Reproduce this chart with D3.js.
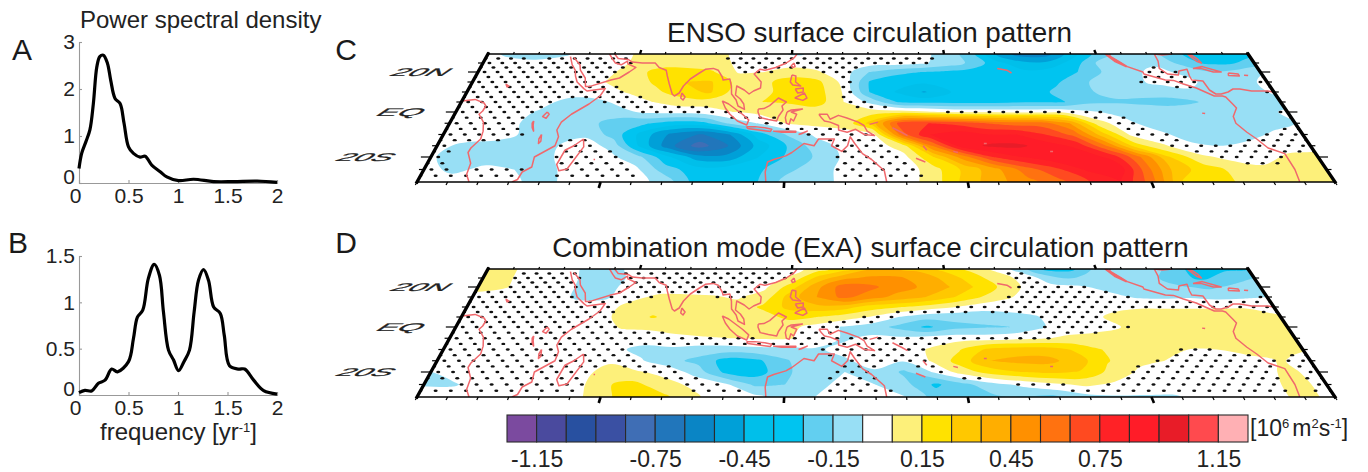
<!DOCTYPE html>
<html>
<head>
<meta charset="utf-8">
<script src="https://cdn.jsdelivr.net/npm/d3@7"></script>
<style>
  html, body { margin: 0; padding: 0; background: #fff; }
  svg { display: block; font-family: "Liberation Sans", Arial, sans-serif; }
</style>
</head>
<body>
<svg id="chart" width="1368" height="472"></svg>
<script>
// spectra, [frequency, power]
const psdA = [[0,.31],[.027,.63],[.07,.88],[.11,1.13],[.145,1.69],[.18,2.47],[.21,2.69],[.246,2.72],[.287,2.55],[.32,2.19],[.364,1.8],[.415,1.69],[.455,1.27],[.5,.77],[.55,.63],[.617,.55],[.668,.57],[.735,.38],[.82,.24],[.887,.13],[1.005,.05],[1.157,.08],[1.36,.03],[1.56,.03],[1.8,.04],[2,.015]];
const psdB = [[0,.025],[.06,.05],[.128,.043],[.196,.126],[.263,.16],[.33,.28],[.388,.25],[.5,.36],[.55,.61],[.59,.84],[.644,.915],[.7,1.256],[.76,1.41],[.813,1.29],[.853,.897],[.904,.484],[.955,.377],[1.005,.262],[1.06,.36],[1.116,.484],[1.163,.897],[1.207,1.238],[1.258,1.353],[1.308,1.238],[1.36,.95],[1.427,.88],[1.467,.646],[1.52,.316],[1.61,.28],[1.673,.28],[1.764,.16],[1.865,.047],[2,.01]];
const freqTicks = [0, 0.5, 1, 1.5, 2];
const psdATicks = [0, 1, 2, 3];
const psdBTicks = [0, 0.5, 1, 1.5];

// fields in hundredths of 10^6 m2/s, rows are lat 30 to -30 every 5, columns lon 0 to 300 every 10
const ensoField = [
  [-2,-8,-10,-7,0,2,6,8,8,7,3,0,-6,-4,0,0,0,-2,-8,-20,-45,-60,-60,-40,-22,-10,-10,-20,-33,-30,-28],
  [0,-1,-2,0,0,1,7,9,10,9,3,1,2,1,-2,0,0,-3,-9,-17,-32,-42,-42,-30,-12,-8,-7,-16,-26,-27,-20],
  [0,0,0,1,2,3,10,20,19,16,4,5,8,6,0,-15,-22,-25,-27,-30,-35,-33,-30,-25,-14,-8,-2,-7,-14,-12,-7],
  [0,0,0,0,0,5,10,17,25,26,12,12,21,18,2,-26,-31,-33,-33,-33,-33,-32,-27,-17,-10,-7,-2,-2,-10,-13,0],
  [0,0,0,-1,0,0,6,13,20,27,10,12,20,20,4,-26,-36,-46,-35,-34,-34,-31,-22,-16,-13,-12,-11,-7,-13,-12,-3],
  [0,0,0,-2,-9,-7,-2,5,10,10,9,15,16,20,5,-8,-26,-28,-28,-28,-27,-26,-26,-17,-16,-17,-18,-15,-12,-12,-10],
  [0,0,-1,-6,-10,-10,-7,-3,-2,0,5,8,10,9,7,10,10,7,3,3,2,2,2,-4,-8,-10,-10,-10,-9,-9,-3],
  [0,0,-3,-7,-12,-12,-22,-24,-30,-28,-12,-4,6,8,8,30,70,75,72,65,60,60,45,10,-2,-10,-12,-13,-12,-12,-5],
  [0,-1,-2,-7,-8,-7,-20,-40,-58,-66,-55,-30,-14,-3,2,2,60,85,90,85,85,75,62,30,3,-2,-10,-12,-12,-2,0],
  [-3,-7,-8,-8,-6,0,-8,-38,-62,-80,-65,-42,-25,-10,-2,0,10,55,90,97,97,90,82,55,20,6,-3,-5,1,0,0],
  [-4,-9,-9,-8,-6,0,-2,-12,-33,-50,-52,-36,-24,-14,-3,-2,2,25,50,75,85,92,92,82,55,25,8,2,0,7,9],
  [-2,-7,-3,-5,-8,-1,0,-2,-20,-30,-30,-28,-18,-10,-2,-2,-1,12,28,42,60,72,86,95,60,30,20,12,8,8,8],
  [0,-1,-1,-2,-9,-2,-1,-2,-7,-27,-30,-27,-12,-10,-2,-3,0,12,30,42,52,62,75,85,60,25,18,14,10,10,5]
];
const exaField = [
  [10,6,0,0,-8,-8,0,0,0,0,0,0,0,10,20,34,36,32,22,13,3,-10,-28,-28,-12,-8,-8,-20,-30,-27,-25],
  [8,6,0,0,-7,-10,-1,0,0,0,0,0,7,28,42,47,47,42,32,20,10,2,-10,-15,-15,-12,-12,-22,-27,-20,-15],
  [7,6,0,0,-7,-8,0,0,0,0,0,3,20,42,60,58,50,44,36,25,14,3,-2,-3,-8,-12,-13,-14,-17,-13,-7],
  [3,0,0,0,-7,-7,2,7,7,6,4,9,30,45,58,50,42,36,27,17,7,2,0,0,-1,-6,-7,-6,-8,-7,-5],
  [0,0,0,0,0,0,8,10,9,8,8,17,28,32,30,20,16,11,6,0,0,0,0,0,2,4,4,4,4,4,2],
  [0,0,0,0,-3,3,7,16,10,8,7,10,18,15,10,4,-5,-11,-12,-12,-10,-6,0,2,8,10,10,10,10,10,6],
  [0,0,0,0,0,0,6,7,10,10,8,9,8,1,-6,-10,-18,-27,-18,-16,-15,-7,0,0,5,8,10,10,10,10,8],
  [0,0,0,0,0,0,0,0,2,4,5,6,6,0,-6,-3,-3,0,1,0,2,4,7,10,10,10,10,10,10,10,8],
  [0,0,0,0,0,0,-3,-8,-7,-10,-10,-8,-8,-6,-3,0,0,6,14,27,30,30,24,15,9,8,5,5,9,10,6],
  [0,0,0,0,0,0,3,-4,-12,-18,-30,-27,-16,-7,-6,-2,-4,6,20,35,38,38,30,16,8,5,0,0,1,6,0],
  [-5,0,0,0,0,0,10,6,2,-10,-28,-30,-17,-8,-5,-6,-17,-4,10,20,25,27,24,12,3,0,0,0,0,8,0],
  [-6,-6,0,0,0,0,14,18,8,3,-3,-17,-15,-7,-3,-5,-12,-27,-17,-8,-2,3,7,3,0,0,0,0,0,10,0],
  [0,0,0,0,0,0,12,20,18,7,0,-2,-10,-5,-2,0,-5,-20,-18,-16,-16,-15,-8,-6,-6,-5,0,0,0,10,0]
];
const fieldLons = d3.range(0, 301, 10);
const fieldLats = d3.range(30, -31, -5);
const stippleLimit = 6;

// colour bar
const barColors = ["#7b4a9f","#4a4a9e","#2850a0","#3a50a3","#3f6eb5","#2176bb","#0a85c5","#00a0d8","#00bfea","#00c4f0","#62cff0","#98dff5","#ffffff","#fdf07a","#ffe200","#ffc800","#ffae00","#ff9000","#ff7210","#ff4a20","#ff2226","#ff1c28","#e81c28","#ff4a4e","#ffb0b4"];
const barLevels = d3.range(-125, 126, 10);
const barTicks = [-1.15, -0.75, -0.45, -0.15, 0.15, 0.45, 0.75, 1.15];

// coastlines, [lon, lat]
const coastlines = [
  [[0,5.5],[4.5,6.3],[8.5,4.5],[9.7,3],[9.5,.5],[8.8,-1],[11.8,-4.5],[13.3,-8.5],[13.8,-12],[12,-16],[11.8,-18],[14.5,-22.5],[15,-27],[17,-30]],
  [[33,28.5],[35,24],[37,21],[38,18],[39.5,15],[43,11.7],[44.5,10.5],[51,11.8],[50,8],[47,4],[42,-1],[39.5,-4.5],[39,-8],[40.5,-11],[40.5,-15],[35,-20],[35.5,-24],[33,-26],[32.5,-29],[31,-30]],
  [[34.5,28],[38,24],[39,21],[42,17],[43.3,12.8],[45,12.8],[52,16],[55,17],[58,20],[60,22.5],[56.5,24.5],[56,26],[54,24],[51.5,25],[50,27],[48,30]],
  [[50,30],[52,27.5],[56,27],[58,25.5],[62,25],[67,25],[69,22.5],[72,21],[73,18],[74.5,14],[76.5,9],[77.5,8],[79,9.5],[80,13],[82,16.5],[85,19.5],[87,21.5],[90,22],[92,21],[94,17.5],[94.5,16],[97,16.5],[98,13],[98.5,9],[100.5,6],[101.5,3],[104,1.3],[103.5,4],[102,6.5],[100,8.5],[100,13],[103,11],[105,9],[106.5,10.5],[109,12],[109,15],[106,19],[108,21.5],[110,21],[114,22.5],[118,25],[121,28],[122,30]],
  [[80,9.5],[81.5,7.5],[81,6],[80,7],[80,9.5]],
  [[121,25],[121.5,23],[120.5,22.5],[120,23.5],[121,25]],
  [[120.5,18.5],[122,18],[122,15],[124,13],[121,13.5],[120,15],[120.5,18.5]],
  [[122,7],[125.5,9.5],[126.5,7],[125,5.8],[122,7]],
  [[122,11.5],[125,12],[125,10],[123,9.5],[122,11.5]],
  [[109,1.5],[111,1.7],[113,3.2],[116,7],[119,5],[117.5,3],[118,1],[116.5,-2],[116,-4],[113,-3.3],[110,-2.5],[109,0],[109,1.5]],
  [[95.5,5.5],[98,4],[103.5,-1],[106,-3.5],[105.5,-5.8],[102,-4],[99,-1],[97,2],[95.5,5.5]],
  [[105.5,-6.5],[108.5,-6.5],[112,-7],[114.5,-7.7],[114,-8.7],[110,-8],[106,-7.3],[105.5,-6.5]],
  [[119.5,0],[121,1],[125,1.5],[121,0],[123,-1],[122,-4],[121,-3],[120.5,-5.5],[119.5,-5],[119,-2.5],[119.5,0]],
  [[115,-8.5],[119,-8.5],[123,-8.5],[123,-9],[118,-9],[115,-8.5]],
  [[124,-10],[127,-8.5],[125,-9.7],[124,-10]],
  [[131,-1],[134,-1],[135,-3.2],[138,-1.5],[141,-2.7],[145,-4.5],[147,-6],[148,-8.5],[150.5,-10.5],[147,-10],[144,-7.7],[141,-9],[138,-8],[138,-6],[135,-4.5],[133,-4],[132,-2.7],[131,-1]],
  [[114,-30],[113.5,-26],[114,-22],[116,-21],[120,-19.5],[122,-18],[124,-16],[126,-14],[129.5,-15],[131,-12],[135,-12],[136.5,-12],[135.5,-15],[139,-17.5],[141,-15],[142,-11],[143.5,-14],[146,-18.5],[149,-21],[153,-25.5],[153.5,-30]],
  [[49.5,-12],[50.5,-15.5],[47.5,-24.8],[45,-25.5],[43.5,-23],[44.5,-17],[47,-15],[49.5,-12]],
  [[33,0],[34,-1],[33.5,-2.8],[32,-2],[33,0]],
  [[29.5,-4],[30,-6],[31,-8.5],[30,-7],[29.3,-5],[29.5,-4]],
  [[34.3,-10],[35,-13],[34.5,-14],[34,-12],[34.3,-10]],
  [[13,14],[14.5,13],[14,12.5],[13,14]],
  [[55.3,-21],[55.8,-21]],
  [[199.5,22],[203,21],[204.5,19.5]],
  [[177,-17.5],[178.5,-18]],
  [[164,-20.5],[167,-22]],
  [[167,-15],[168,-17]],
  [[157,-7],[160,-9],[162,-10.5]],
  [[149,-5.5],[152,-4.5]],
  [[188,-14],[189,-14]],
  [[210,-17.5],[211,-17.5]],
  [[269,-.5],[270,-.7]],
  [[243.5,30],[246,26],[249.5,23],[248,25],[245,28.5],[245.5,30]],
  [[244,30],[247.5,26],[250,23],[255,20],[255,19],[262,16],[265,15.8],[268,14],[272,12],[274.5,10],[277,8],[280,8],[281,7.5],[282,4],[282.5,2],[279.5,-2],[279,-5],[281,-9],[283,-12],[285,-16],[289.5,-18.5],[289.5,-25],[288.5,-30]],
  [[263,30],[263,26],[262,22],[264,19],[268,18.5],[269,20.5],[272.5,21.5],[272,18],[272,16],[276,15.5],[276.5,11],[278,9],[280,9],[283,10],[285.5,11.5],[288,11.5],[292,10.5],[298,10.5],[300,10]],
  [[263,30],[266,29.5],[270,30]],
  [[277,30],[279,27],[279.5,25],[278,26],[277,28],[276,30]],
  [[275,22],[279,23],[285,20],[282,20],[278,22],[275,22]],
  [[287.5,19.5],[291,19],[291,18],[287,18.3],[287.5,19.5]],
  [[293,18.4],[294.5,18.3]]
];

const svg = d3.select("#chart");

//Map frame. Latitude spacing widens towards the bottom, the sides lean outwards
const latToY = d3.scaleLinear().domain([30, 20, 0, -20, -30]).range([54, 72, 112, 157, 182]);
const leftEdge = d3.scaleLinear().domain([54, 182]).range([488, 417]);
const rightEdge = d3.scaleLinear().domain([54, 182]).range([1248, 1335]);
const lonToU = d3.scaleLinear().domain([0, 300]).range([0, 1]);

function project(lon, lat) {
    const y = latToY(lat);
    return [leftEdge(y) + (rightEdge(y) - leftEdge(y)) * lonToU(lon), y];
}

function fieldAt(field, lon, lat) {
    const c = Math.min(Math.floor(lon / 10), 29);
    const r = Math.min(Math.floor((30 - lat) / 5), 11);
    const a = lon / 10 - c;
    const b = (30 - lat) / 5 - r;
    return field[r][c] * (1 - a) * (1 - b) + field[r][c + 1] * a * (1 - b)
        + field[r + 1][c] * (1 - a) * b + field[r + 1][c + 1] * a * b;
}

function drawMap(field, yOffset, name, title, letter, titleX, letterY) {
    const g = svg.append("g").attr("transform", "translate(0," + yOffset + ")");

    const corners = [project(0, 30), project(300, 30), project(300, -30), project(0, -30)];
    svg.append("clipPath").attr("id", "clip" + name)
        .append("polygon").attr("points", corners.map(d => d.join(",")).join(" "));

    const maps = g.append("g").attr("clip-path", "url(#clip" + name + ")");

    //Pad the grid by one cell so contours leave the frame instead of closing along it
    const nx = fieldLons.length + 2, ny = fieldLats.length + 2;
    const flat = [];
    for (let j = 0; j < ny; j++) {
        const row = field[Math.max(0, Math.min(fieldLats.length - 1, j - 1))];
        for (let i = 0; i < nx; i++) {
            flat.push(row[Math.max(0, Math.min(fieldLons.length - 1, i - 1))]);
        }
    }

    const thresholds = barLevels.slice(1, -1);
    const contours = d3.contours().size([nx, ny]).thresholds(thresholds)(flat);

    const ringLine = d3.line().curve(d3.curveCatmullRomClosed.alpha(0.5));
    function gridToPx(p) {
        const lon = (p[0] - 1.5) * 10, lat = 30 - (p[1] - 1.5) * 5;
        //Outside the frame keep extrapolating on the same scales
        return project(lon, lat);
    }

    maps.append("polygon").attr("points", corners.map(d => d.join(",")).join(" ")).attr("fill", barColors[0]);

    maps.selectAll("path.band")
        .data(contours)
        .join("path")
        .attr("class", "band")
        .attr("fill", (d, i) => barColors[i + 1])
        .attr("fill-rule", "evenodd")
        .attr("d", d => d.coordinates.flatMap(poly => poly.map(ring => ringLine(ring.slice(0, -1).map(gridToPx)))).join(""));

    //Stippling where the pattern is not significant, staggered rows
    const dots = [];
    d3.range(27.5, -28, -2.5).forEach((lat, r) => {
        d3.range(r % 2 ? 2.5 : 0, 301, 5).forEach(lon => {
            if (Math.abs(fieldAt(field, lon, lat)) < stippleLimit) dots.push(project(lon, lat));
        });
    });
    maps.selectAll("ellipse")
        .data(dots)
        .join("ellipse")
        .attr("cx", d => d[0])
        .attr("cy", d => d[1])
        .attr("rx", 2)
        .attr("ry", 1.2)
        .attr("fill", "#111");

    const coast = d3.line().x(d => project(d[0], d[1])[0]).y(d => project(d[0], d[1])[1]);
    maps.selectAll("path.coast")
        .data(coastlines)
        .join("path")
        .attr("class", "coast")
        .attr("fill", "none")
        .attr("stroke", "#f0686c")
        .attr("stroke-width", 1.5)
        .attr("stroke-linejoin", "round")
        .attr("d", coast);

    //Ticks around the frame
    const ticks = g.append("g").attr("stroke", "#000");
    d3.range(0, 301, 10).forEach(lon => {
        const major = lon % 60 === 0 && lon > 0 && lon < 300;
        const t = project(lon, 30), b = project(lon, -30);
        const lean = (t[0] - b[0]) / (t[1] - b[1]);
        ticks.append("line").attr("x1", t[0]).attr("y1", t[1])
            .attr("x2", t[0] - lean * (major ? 4 : 2)).attr("y2", t[1] - (major ? 4 : 2))
            .attr("stroke-width", major ? 2.4 : 1.2);
        ticks.append("line").attr("x1", b[0]).attr("y1", b[1])
            .attr("x2", b[0] + lean * (major ? 6 : 3)).attr("y2", b[1] + (major ? 6 : 3))
            .attr("stroke-width", major ? 2.6 : 1.2);
    });
    d3.range(-25, 26, 5).forEach(lat => {
        const len = lat % 20 === 0 ? 10 : 5;
        const l = project(0, lat), r = project(300, lat);
        ticks.append("line").attr("x1", l[0]).attr("y1", l[1]).attr("x2", l[0] - len).attr("y2", l[1]).attr("stroke-width", 1.2);
        ticks.append("line").attr("x1", r[0]).attr("y1", r[1]).attr("x2", r[0] + len).attr("y2", r[1]).attr("stroke-width", 1.2);
    });

    //Frame
    const frame = [[corners[0], corners[1], 1.3], [corners[3], corners[2], 1.3], [corners[0], corners[3], 3.4], [corners[1], corners[2], 3.4]];
    frame.forEach(f => {
        g.append("line").attr("x1", f[0][0]).attr("y1", f[0][1]).attr("x2", f[1][0]).attr("y2", f[1][1])
            .attr("stroke", "#000").attr("stroke-width", f[2]).attr("stroke-linecap", "square");
    });

    //Latitude labels are squashed with the map
    [["20N", 20, 416], ["EQ", 0, 396], ["20S", -20, 361]].forEach(d => {
        g.append("text")
            .attr("transform", "translate(" + d[2] + "," + (latToY(d[1]) + 4) + ") scale(2.8,1) skewX(-28)")
            .attr("text-anchor", "middle")
            .attr("font-size", 11)
            .attr("fill", "#222")
            .attr("stroke", "#222")
            .attr("stroke-width", 0.2)
            .text(d[0]);
    });

    g.append("text").attr("x", titleX).attr("y", 42).attr("text-anchor", "middle")
        .attr("font-size", 27.8).attr("fill", "#1a1a1a").text(title);
    svg.append("text").attr("x", 346).attr("y", letterY).attr("text-anchor", "middle")
        .attr("font-size", 30).attr("fill", "#1a1a1a").text(letter);
}

function drawSpectrum(data, yTicks, yMax, y0, y1) {
    const x = d3.scaleLinear().domain([0, 2]).range([79, 277]);
    const y = d3.scaleLinear().domain([0, yMax]).range([y0, y1]);
    const g = svg.append("g");

    const xAxis = g.append("g").attr("transform", "translate(0," + y0 + ")")
        .call(d3.axisBottom(x).tickValues(freqTicks).tickFormat(d3.format("")).tickSize(-3).tickPadding(5));
    const yAxis = g.append("g").attr("transform", "translate(79,0)")
        .call(d3.axisLeft(y).tickValues(yTicks).tickFormat(d3.format("")).tickSize(-3).tickPadding(4));
    [xAxis, yAxis].forEach(a => {
        a.selectAll("path,line").attr("stroke", "#999").attr("stroke-width", 1.1);
        a.selectAll("text").attr("font-size", 21).attr("font-family", "Liberation Sans").attr("fill", "#222");
    });
    //The zero labels sit clear of the corner
    yAxis.selectAll("text").filter(d => d === 0).attr("y", -6);
    xAxis.selectAll("text").filter(d => d === 0).attr("x", -4);

    g.append("path")
        .datum(data)
        .attr("fill", "none")
        .attr("stroke", "#000")
        .attr("stroke-width", 3.2)
        .attr("stroke-linejoin", "round")
        .attr("d", d3.line().x(d => x(d[0])).y(d => y(d[1])).curve(d3.curveCatmullRom.alpha(0.5)));
}

drawSpectrum(psdA, psdATicks, 3, 183, 42);
drawSpectrum(psdB, psdBTicks, 1.5, 395, 256);

svg.append("text").attr("x", 80).attr("y", 28).attr("font-size", 24).attr("fill", "#222").text("Power spectral density");
svg.append("text").attr("x", 22).attr("y", 60).attr("text-anchor", "middle").attr("font-size", 30).attr("fill", "#1a1a1a").text("A");
svg.append("text").attr("x", 18).attr("y", 253).attr("text-anchor", "middle").attr("font-size", 30).attr("fill", "#1a1a1a").text("B");

const freqLabel = svg.append("text").attr("x", 100).attr("y", 440).attr("font-size", 24).attr("fill", "#222");
freqLabel.append("tspan").text("frequency [yr");
freqLabel.append("tspan").attr("dy", -8).attr("font-size", 13).text("-1");
freqLabel.append("tspan").attr("dy", 8).text("]");

drawMap(ensoField, 0, "C", "ENSO surface circulation pattern", "C", 869.5, 60);
drawMap(exaField, 215, "D", "Combination mode (ExA) surface circulation pattern", "D", 870.5, 253);

//Colour bar
const barX = d3.scaleLinear().domain([-1.25, 1.25]).range([507, 1248]);
const barTop = 415, barHeight = 27;
svg.selectAll("rect.cell")
    .data(barColors)
    .join("rect")
    .attr("class", "cell")
    .attr("x", (d, i) => barX(barLevels[i] / 100))
    .attr("y", barTop)
    .attr("width", (d, i) => barX(barLevels[i + 1] / 100) - barX(barLevels[i] / 100))
    .attr("height", barHeight)
    .attr("fill", d => d)
    .attr("stroke", "#2a2a2a")
    .attr("stroke-width", 1.1);

const barAxis = svg.append("g").attr("transform", "translate(0," + (barTop + barHeight) + ")")
    .call(d3.axisBottom(barX).tickValues(barTicks).tickFormat(d3.format(".2f")).tickSize(0).tickPadding(8.7));
barAxis.select(".domain").remove();
barAxis.selectAll("text").attr("font-size", 23).attr("font-family", "Liberation Sans").attr("fill", "#222")
    .text(d => d.toFixed(2));

const unitLabel = svg.append("text").attr("x", 1250).attr("y", 436).attr("font-size", 23).attr("fill", "#222");
unitLabel.append("tspan").text("[10");
unitLabel.append("tspan").attr("dy", -8).attr("font-size", 13).text("6");
unitLabel.append("tspan").attr("dy", 8).attr("dx", 3).text("m");
unitLabel.append("tspan").attr("dy", -8).attr("font-size", 13).text("2");
unitLabel.append("tspan").attr("dy", 8).text("s");
unitLabel.append("tspan").attr("dy", -8).attr("font-size", 13).text("-1");
unitLabel.append("tspan").attr("dy", 8).text("]");
</script>
</body>
</html>
